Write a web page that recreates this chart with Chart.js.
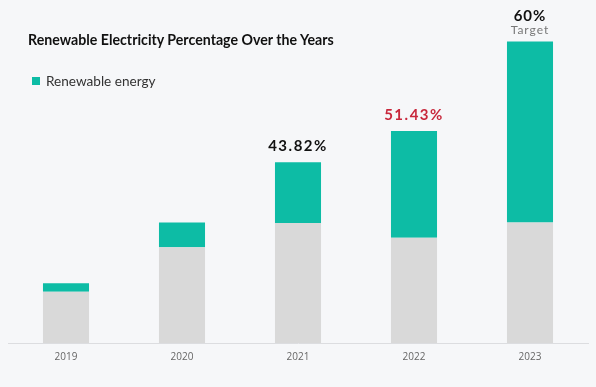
<!DOCTYPE html>
<html>
<head>
<meta charset="utf-8">
<script src="https://cdn.jsdelivr.net/npm/chart.js@4/dist/chart.umd.min.js"></script>
<style>
  html, body { margin: 0; padding: 0; background: #f6f7f9; }
  #wrap { position: relative; width: 596px; height: 387px; background: #f6f7f9; }
  #title { position: absolute; left: 28px; top: 31px; font-family: Lato, "Open Sans", sans-serif; font-weight: 700; font-size: 14.2px; color: #111; white-space: nowrap; }
  #legend { position: absolute; left: 32px; top: 73px; font-family: Lato, "Open Sans", sans-serif; font-size: 13.6px; color: #333; white-space: nowrap; display: flex; align-items: center; }
  #legend .sw { width: 8px; height: 8px; background: #0dbca5; margin-right: 6px; display: inline-block; }
  canvas { position: absolute; left: 0; top: 0; }
</style>
</head>
<body>
<div id="wrap">
  <canvas id="c" width="596" height="387"></canvas>
  <div id="title">Renewable Electricity Percentage Over the Years</div>
  <div id="legend"><span class="sw"></span><span>Renewable energy</span></div>
</div>
<script>
const categories = ['2019', '2020', '2021', '2022', '2023'];
const baseValues = [12.4, 23.2, 29.1, 25.5, 29.2];
const renewableValues = [2.1, 6.0, 14.7, 25.9, 43.9];
const topLabels = ['', '', '43.82%', '51.43%', '60%'];
const topLabelColors = ['#111', '#111', '#111', '#c8283c', '#111'];
const subLabels = ['', '', '', '', 'Target'];

const labelPlugin = {
  id: 'topLabels',
  afterDatasetsDraw(chart) {
    const ctx = chart.ctx;
    const meta = chart.getDatasetMeta(1);
    ctx.save();
    ctx.textAlign = 'center';
    ctx.textBaseline = 'middle';
    meta.data.forEach((bar, i) => {
      const x = bar.x;
      const y = bar.y;
      if (subLabels[i]) {
        ctx.font = '12px Lato, "Open Sans", sans-serif';
        ctx.letterSpacing = '1px';
        ctx.fillStyle = '#777';
        ctx.fillText(subLabels[i], x, y - 11);
        ctx.font = 'bold 15px Lato, "Open Sans", sans-serif';
        ctx.letterSpacing = '1px';
        ctx.fillStyle = topLabelColors[i];
        ctx.fillText(topLabels[i], x, y - 25);
      } else if (topLabels[i]) {
        ctx.font = 'bold 15px Lato, "Open Sans", sans-serif';
        ctx.letterSpacing = '1.5px';
        ctx.fillStyle = topLabelColors[i];
        ctx.fillText(topLabels[i], x, y - 16);
      }
    });
    ctx.restore();
  }
};

new Chart(document.getElementById('c'), {
  type: 'bar',
  data: {
    labels: categories,
    datasets: [
      { label: 'Other', data: baseValues, backgroundColor: '#d9d9d9', borderWidth: 0 },
      { label: 'Renewable energy', data: renewableValues, backgroundColor: '#0dbca5', borderWidth: 0 }
    ]
  },
  options: {
    responsive: false,
    animation: false,
    layout: { padding: { left: 8, right: 8, top: 13, bottom: 16 } },
    datasets: { bar: { categoryPercentage: 1, barPercentage: 0.397 } },
    plugins: { legend: { display: false }, title: { display: false }, tooltip: { enabled: false } },
    scales: {
      x: {
        stacked: true,
        grid: { display: false, drawTicks: false },
        border: { display: true, color: '#dcdde0', width: 1 },
        ticks: { color: '#666', padding: 8, font: { family: '"Open Sans", sans-serif', size: 10 } }
      },
      y: { stacked: true, display: false, min: 0, max: 80 }
    }
  },
  plugins: [labelPlugin]
});
</script>
</body>
</html>
